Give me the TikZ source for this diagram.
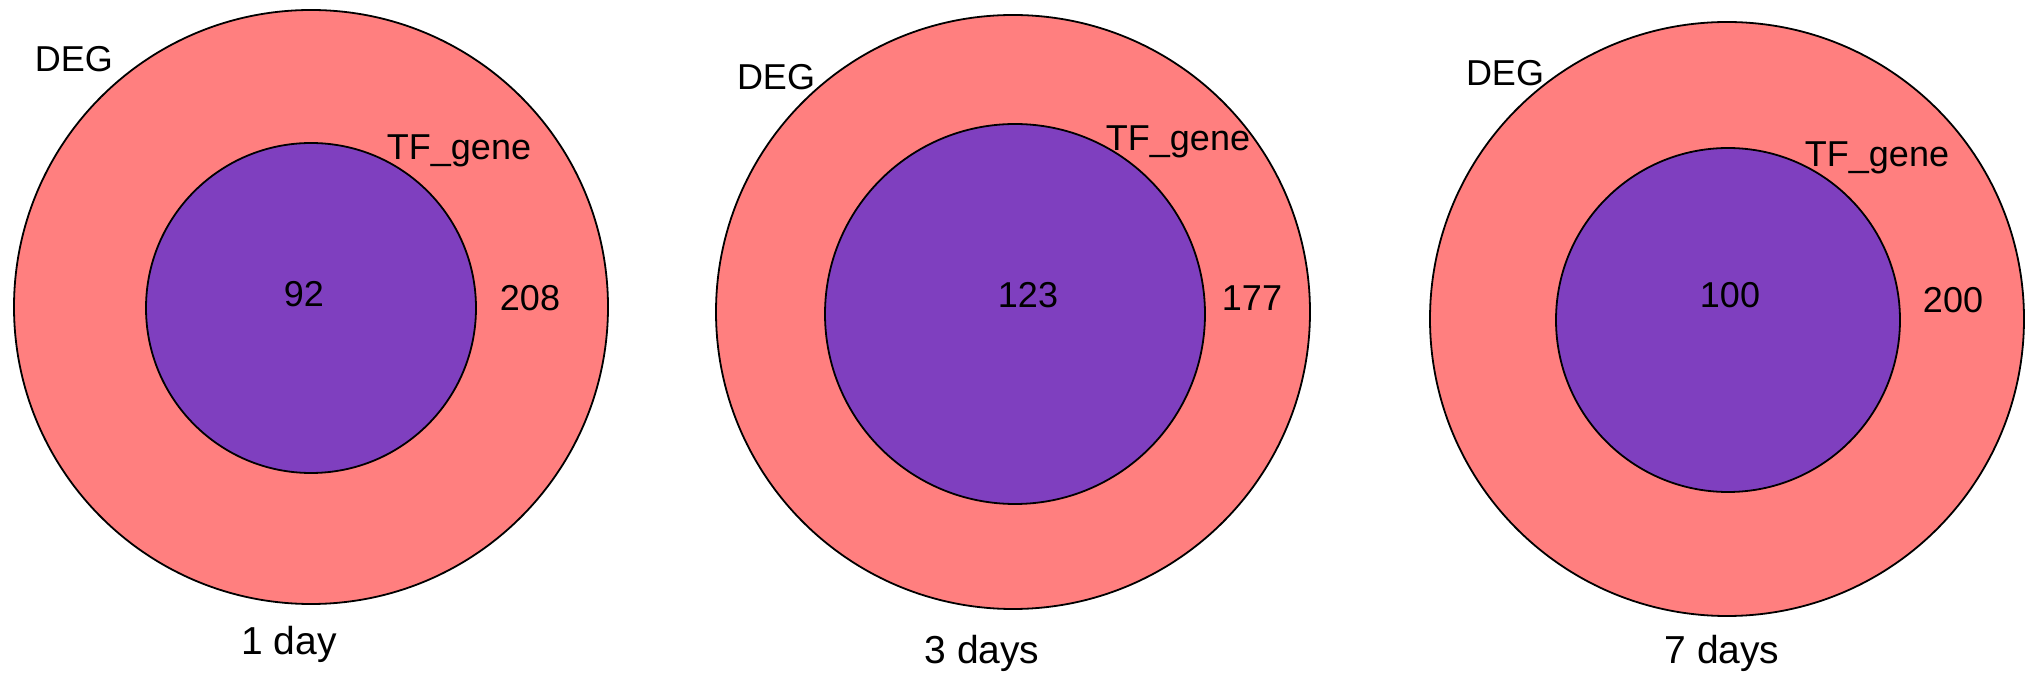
\documentclass[tikz,border=0pt]{standalone}
\usepackage{fontspec}
\setmainfont{Liberation Sans}
\begin{document}
\begin{tikzpicture}[x=0.5pt,y=-0.5pt,
  outer/.style={fill=deg, draw=black, line width=0.9pt},
  inner/.style={fill=tf, draw=black, line width=0.9pt},
  lbl/.style={anchor=base, inner sep=0pt, font=\fontsize{18}{21}\selectfont},
  daylbl/.style={anchor=base, inner sep=0pt, font=\fontsize{19.5}{23}\selectfont}]
\definecolor{deg}{RGB}{255,127,127}
\definecolor{tf}{RGB}{127,63,191}
\useasboundingbox (0,0) rectangle (2031,689);
% panel 1
\fill[outer] (311,307) circle (297);
\fill[inner] (311,308) circle (165);
\node[lbl] (d1) at (74,72) {DEG};
\node[lbl] (t1) at (459,160) {TF\_gene};
\node[lbl] (n1) at (304,307) {92};
\node[lbl] (m1) at (530,311) {208};
\node[daylbl] (l1) at (289,654) {1 day};
% panel 2
\fill[outer] (1013,312) circle (297);
\fill[inner] (1015,314) circle (190);
\node[lbl] (d2) at (776,90) {DEG};
\node[lbl] (t2) at (1178,151) {TF\_gene};
\node[lbl] (n2) at (1028,308) {123};
\node[lbl] (m2) at (1252,311) {177};
\node[daylbl] (l2) at (982,663) {3 days};
% panel 3
\fill[outer] (1727,319) circle (297);
\fill[inner] (1728,320) circle (172);
\node[lbl] (d3) at (1505,86) {DEG};
\node[lbl] (t3) at (1877,167) {TF\_gene};
\node[lbl] (n3) at (1730,308) {100};
\node[lbl] (m3) at (1953,313) {200};
\node[daylbl] (l3) at (1722,663) {7 days};
\end{tikzpicture}
\end{document}
